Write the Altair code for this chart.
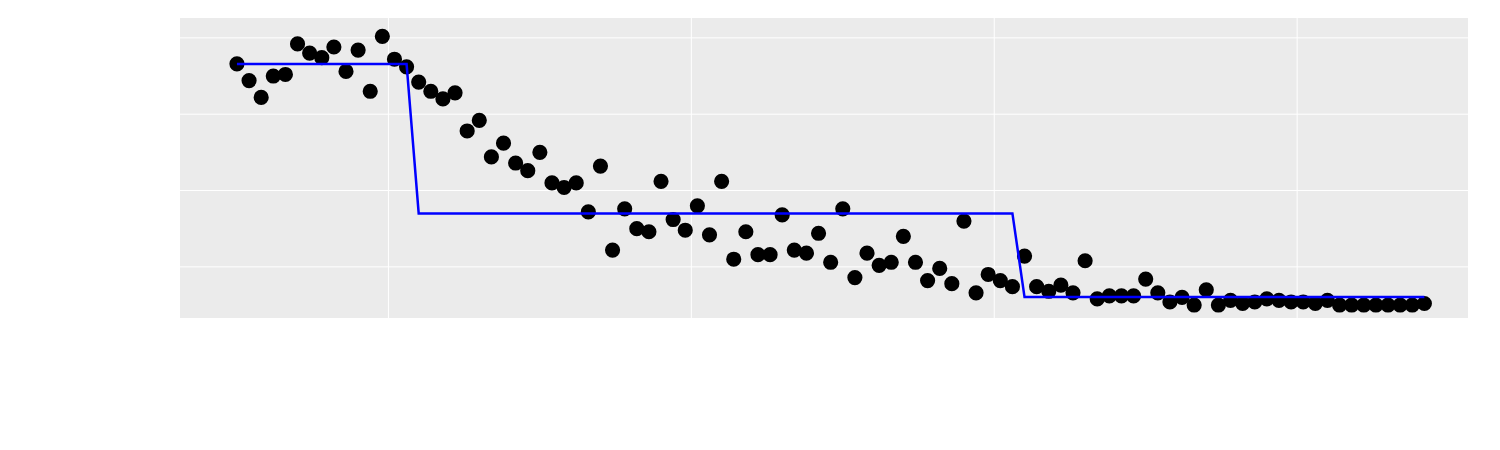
import altair as alt
import pandas as pd

ages = list(range(99))
pop = [1580, 1470, 1360, 1500, 1510, 1710, 1650, 1620, 1690, 1530,
       1670, 1400, 1760, 1610, 1560, 1460, 1400, 1350, 1390, 1140,
       1210, 970, 1060, 930, 880, 1000, 800, 770, 800, 610,
       910, 360, 630, 500, 480, 810, 560, 490, 650, 460,
       810, 300, 480, 330, 330, 590, 360, 340, 470, 280,
       630, 180, 340, 260, 280, 450, 280, 160, 240, 140,
       550, 80, 200, 160, 120, 320, 120, 90, 130, 80,
       290, 40, 60, 60, 60, 170, 80, 20, 50, 0,
       100, 0, 30, 10, 20, 40, 30, 20, 20, 10,
       30, 0, 0, 0, 0, 0, 0, 0, 10]
# fitted step levels per age
fit = [1578] * 15 + [600] * 50 + [52] * 34

# minor gridline positions
minor_x = [12.5, 37.5, 62.5, 87.5]
minor_y = [250, 750, 1250, 1750]

df = pd.DataFrame({"age": ages, "pop": pop, "fit": fit})

xs = alt.Scale(domain=[-4.7, 101.6], nice=False, zero=False)
ys = alt.Scale(domain=[-85, 1880], nice=False, zero=False)

vgrid = alt.Chart(pd.DataFrame({"age": minor_x})).mark_rule(color="white", strokeWidth=1).encode(
    x=alt.X("age:Q", scale=xs, axis=None))
hgrid = alt.Chart(pd.DataFrame({"pop": minor_y})).mark_rule(color="white", strokeWidth=1).encode(
    y=alt.Y("pop:Q", scale=ys, axis=None))

base = alt.Chart(df)

pts = base.mark_circle(color="black", opacity=1, size=230).encode(
    x=alt.X("age:Q", scale=xs, axis=alt.Axis(values=[0, 25, 50, 75, 100], grid=True, gridColor="white",
            gridWidth=2.2, domain=False, tickColor="#333", tickSize=6, tickWidth=2,
            labelFontSize=22, labelColor="#4D4D4D", labelPadding=4, titleFontSize=28,
            titleFontWeight="normal", titleColor="black", titlePadding=14, title="age")),
    y=alt.Y("pop:Q", scale=ys, axis=alt.Axis(values=[0, 500, 1000, 1500], grid=True, gridColor="white",
            gridWidth=2.2, domain=False, tickColor="#333", tickSize=6, tickWidth=2,
            labelFontSize=22, labelColor="#4D4D4D", labelPadding=4, titleFontSize=28,
            titleFontWeight="normal", titleColor="black", titlePadding=16, title="pop")),
)

line = base.mark_line(color="blue", strokeWidth=2.5).encode(
    x=alt.X("age:Q", scale=xs), y=alt.Y("fit:Q", scale=ys))

chart = alt.layer(vgrid, hgrid, pts, line).properties(
    width=1288, height=300,
    autosize=alt.AutoSizeParams(type="none"),
    padding={"left": 172, "top": 10, "right": 0, "bottom": 0},
).configure_view(fill="#EBEBEB", stroke=None).configure_axis(
    labelFont="Liberation Sans", titleFont="Liberation Sans")

chart.save("out.html", embed_options={"renderer": "svg", "actions": False})
